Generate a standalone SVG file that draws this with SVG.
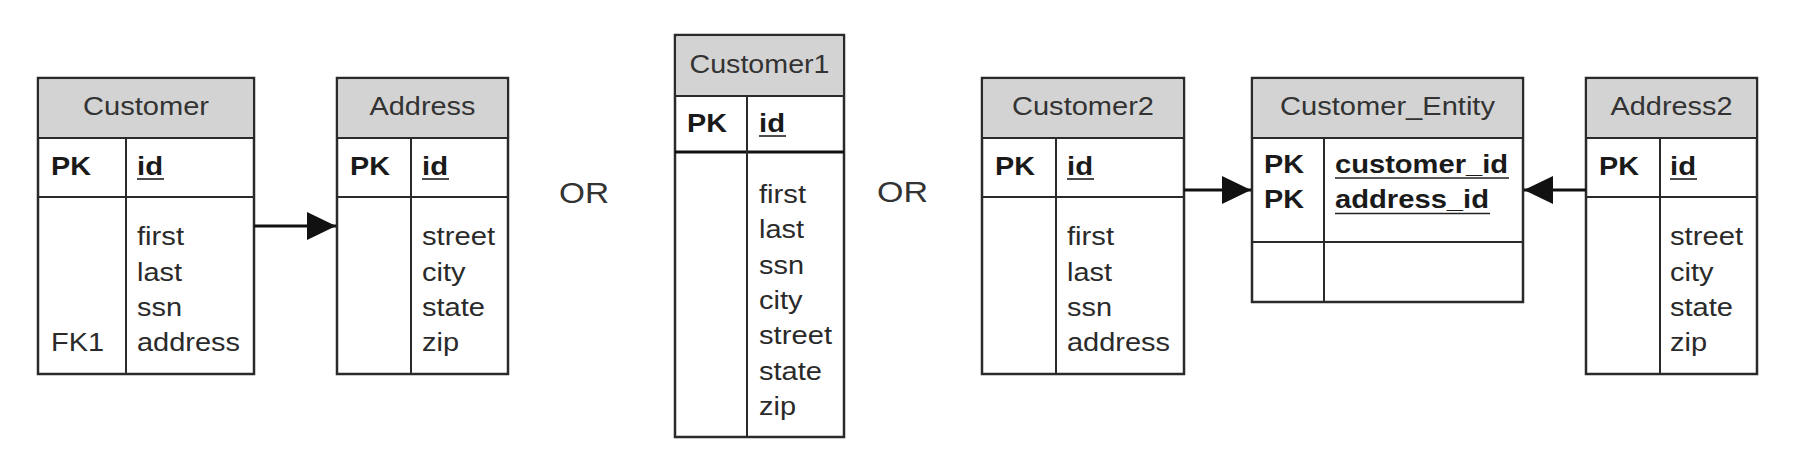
<svg xmlns="http://www.w3.org/2000/svg" width="1796" height="462" viewBox="0 0 1796 462">
<style>
.box{fill:#ffffff;stroke:#2a2a2a;stroke-width:2.5}
.hd{fill:#d3d3d3;stroke:none}
.ln{stroke:#2a2a2a;stroke-width:2;fill:none}
.thk{stroke:#111;stroke-width:3.2;fill:none}
.ul{stroke:#222;stroke-width:1.6}
text{font-family:"Liberation Sans",Arial,sans-serif;font-size:25px;fill:#2a2a2a}
.t{text-anchor:middle;fill:#333}
.b{font-weight:bold;fill:#1a1a1a}
.or{font-size:29px;fill:#333}
.con{stroke:#111;stroke-width:3;fill:none}
</style>
<defs>
<marker id="arr" viewBox="0 0 30 28" markerWidth="30" markerHeight="28" refX="29" refY="14" orient="auto" markerUnits="userSpaceOnUse">
<path d="M0,0 L29,14 L0,28 Z" fill="#111"/>
</marker>
</defs>
<rect width="1796" height="462" fill="#ffffff"/>

<g id="customer">
<rect class="box" x="38" y="78" width="216" height="296"/>
<rect class="hd" x="39.5" y="79.5" width="213" height="58"/>
<line class="ln" x1="38" y1="138" x2="254" y2="138"/>
<line class="ln" x1="38" y1="197" x2="254" y2="197"/>
<line class="ln" x1="126" y1="138" x2="126" y2="374"/>
<text class="t" x="146" y="115" textLength="126" lengthAdjust="spacingAndGlyphs">Customer</text>
<text class="b" x="51" y="175" textLength="40" lengthAdjust="spacingAndGlyphs">PK</text>
<text class="b" x="137" y="175" textLength="26" lengthAdjust="spacingAndGlyphs">id</text>
<line class="ul" x1="137" y1="179" x2="164" y2="179"/>
<text x="137" y="245" textLength="47" lengthAdjust="spacingAndGlyphs">first</text>
<text x="137" y="280.5" textLength="45" lengthAdjust="spacingAndGlyphs">last</text>
<text x="137" y="316" textLength="45" lengthAdjust="spacingAndGlyphs">ssn</text>
<text x="137" y="351" textLength="103" lengthAdjust="spacingAndGlyphs">address</text>
<text x="51" y="351" textLength="53" lengthAdjust="spacingAndGlyphs">FK1</text>
</g>

<g id="address">
<rect class="box" x="337" y="78" width="171" height="296"/>
<rect class="hd" x="338.5" y="79.5" width="168" height="58"/>
<line class="ln" x1="337" y1="138" x2="508" y2="138"/>
<line class="ln" x1="337" y1="197" x2="508" y2="197"/>
<line class="ln" x1="411" y1="138" x2="411" y2="374"/>
<text class="t" x="422.5" y="115" textLength="106" lengthAdjust="spacingAndGlyphs">Address</text>
<text class="b" x="350" y="175" textLength="40" lengthAdjust="spacingAndGlyphs">PK</text>
<text class="b" x="422" y="175" textLength="26" lengthAdjust="spacingAndGlyphs">id</text>
<line class="ul" x1="422" y1="179" x2="449" y2="179"/>
<text x="422" y="245" textLength="73" lengthAdjust="spacingAndGlyphs">street</text>
<text x="422" y="280.5" textLength="43.5" lengthAdjust="spacingAndGlyphs">city</text>
<text x="422" y="316" textLength="63" lengthAdjust="spacingAndGlyphs">state</text>
<text x="422" y="351" textLength="37" lengthAdjust="spacingAndGlyphs">zip</text>
</g>

<text id="or1" class="or" x="559" y="203" textLength="50" lengthAdjust="spacingAndGlyphs">OR</text>

<g id="customer1">
<rect class="box" x="675" y="35" width="169" height="402"/>
<rect class="hd" x="676.5" y="36.5" width="166" height="59"/>
<line class="ln" x1="675" y1="96" x2="844" y2="96"/>
<line class="thk" x1="675" y1="152" x2="844" y2="152"/>
<line class="ln" x1="747" y1="96" x2="747" y2="437"/>
<text class="t" x="759.5" y="73" textLength="140" lengthAdjust="spacingAndGlyphs">Customer1</text>
<text class="b" x="687" y="132" textLength="40" lengthAdjust="spacingAndGlyphs">PK</text>
<text class="b" x="759" y="132" textLength="26" lengthAdjust="spacingAndGlyphs">id</text>
<line class="ul" x1="759" y1="136" x2="786" y2="136"/>
<text x="759" y="203" textLength="47" lengthAdjust="spacingAndGlyphs">first</text>
<text x="759" y="238.3" textLength="45" lengthAdjust="spacingAndGlyphs">last</text>
<text x="759" y="273.6" textLength="45" lengthAdjust="spacingAndGlyphs">ssn</text>
<text x="759" y="308.9" textLength="43.5" lengthAdjust="spacingAndGlyphs">city</text>
<text x="759" y="344.2" textLength="73" lengthAdjust="spacingAndGlyphs">street</text>
<text x="759" y="379.5" textLength="63" lengthAdjust="spacingAndGlyphs">state</text>
<text x="759" y="414.8" textLength="37" lengthAdjust="spacingAndGlyphs">zip</text>
</g>

<text id="or2" class="or" x="877" y="202" textLength="51" lengthAdjust="spacingAndGlyphs">OR</text>

<g id="customer2">
<rect class="box" x="982" y="78" width="202" height="296"/>
<rect class="hd" x="983.5" y="79.5" width="199" height="58"/>
<line class="ln" x1="982" y1="138" x2="1184" y2="138"/>
<line class="ln" x1="982" y1="197" x2="1184" y2="197"/>
<line class="ln" x1="1056" y1="138" x2="1056" y2="374"/>
<text class="t" x="1083" y="115" textLength="142" lengthAdjust="spacingAndGlyphs">Customer2</text>
<text class="b" x="995" y="175" textLength="40" lengthAdjust="spacingAndGlyphs">PK</text>
<text class="b" x="1067" y="175" textLength="26" lengthAdjust="spacingAndGlyphs">id</text>
<line class="ul" x1="1067" y1="179" x2="1094" y2="179"/>
<text x="1067" y="245" textLength="47" lengthAdjust="spacingAndGlyphs">first</text>
<text x="1067" y="280.5" textLength="45" lengthAdjust="spacingAndGlyphs">last</text>
<text x="1067" y="316" textLength="45" lengthAdjust="spacingAndGlyphs">ssn</text>
<text x="1067" y="351" textLength="103" lengthAdjust="spacingAndGlyphs">address</text>
</g>

<g id="customer_entity">
<rect class="box" x="1252" y="78" width="271" height="224"/>
<rect class="hd" x="1253.5" y="79.5" width="268" height="58"/>
<line class="ln" x1="1252" y1="138" x2="1523" y2="138"/>
<line class="ln" x1="1252" y1="242" x2="1523" y2="242"/>
<line class="ln" x1="1324" y1="138" x2="1324" y2="302"/>
<text class="t" x="1387.5" y="115" textLength="215" lengthAdjust="spacingAndGlyphs">Customer_Entity</text>
<text class="b" x="1264" y="173" textLength="40" lengthAdjust="spacingAndGlyphs">PK</text>
<text class="b" x="1264" y="208" textLength="40" lengthAdjust="spacingAndGlyphs">PK</text>
<text class="b" x="1335" y="173" textLength="173" lengthAdjust="spacingAndGlyphs">customer_id</text>
<text class="b" x="1335" y="208" textLength="154" lengthAdjust="spacingAndGlyphs">address_id</text>
<line class="ul" x1="1335" y1="178" x2="1509" y2="178"/>
<line class="ul" x1="1335" y1="213.5" x2="1490" y2="213.5"/>
</g>

<g id="address2">
<rect class="box" x="1586" y="78" width="171" height="296"/>
<rect class="hd" x="1587.5" y="79.5" width="168" height="58"/>
<line class="ln" x1="1586" y1="138" x2="1757" y2="138"/>
<line class="ln" x1="1586" y1="197" x2="1757" y2="197"/>
<line class="ln" x1="1660" y1="138" x2="1660" y2="374"/>
<text class="t" x="1671.5" y="115" textLength="122" lengthAdjust="spacingAndGlyphs">Address2</text>
<text class="b" x="1599" y="175" textLength="40" lengthAdjust="spacingAndGlyphs">PK</text>
<text class="b" x="1670" y="175" textLength="26" lengthAdjust="spacingAndGlyphs">id</text>
<line class="ul" x1="1670" y1="179" x2="1697" y2="179"/>
<text x="1670" y="245" textLength="73" lengthAdjust="spacingAndGlyphs">street</text>
<text x="1670" y="280.5" textLength="43.5" lengthAdjust="spacingAndGlyphs">city</text>
<text x="1670" y="316" textLength="63" lengthAdjust="spacingAndGlyphs">state</text>
<text x="1670" y="351" textLength="37" lengthAdjust="spacingAndGlyphs">zip</text>
</g>

<g id="connectors">
<line class="con" x1="254" y1="226" x2="336" y2="226" marker-end="url(#arr)"/>
<line class="con" x1="1184" y1="190" x2="1251" y2="190" marker-end="url(#arr)"/>
<line class="con" x1="1586" y1="190" x2="1524" y2="190" marker-end="url(#arr)"/>
</g>
</svg>
